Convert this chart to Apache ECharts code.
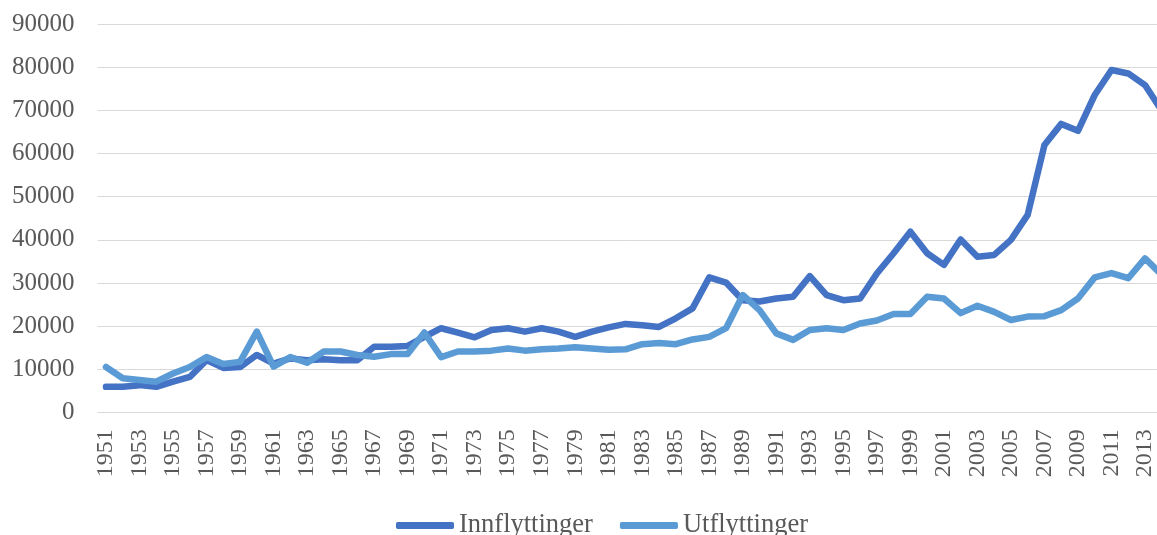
<!DOCTYPE html>
<html>
<head>
<meta charset="utf-8">
<script src="https://cdn.jsdelivr.net/npm/echarts@6/dist/echarts.min.js"></script>
<style>
  html, body { margin: 0; padding: 0; background: #fff; }
  #chart { width: 1157px; height: 535px; }
</style>
</head>
<body>
<div id="chart"></div>
<script>
// år 1951-2014
var years = [];
for (var y = 1951; y <= 2014; y++) { years.push(y); }

// årstall som vises på aksen (annethvert år)
var yearLabels = [];
for (var y = 1951; y <= 2013; y += 2) { yearLabels.push(y); }

// innflyttinger
var innflyttinger = [
  5900, 5950, 6300, 5900, 7100, 8200, 12100, 10300, 10500, 13300,
  11300, 12500, 12100, 12300, 12100, 12100, 15200, 15200, 15400, 17500,
  19500, 18500, 17400, 19100, 19500, 18700, 19500, 18700, 17500, 18700,
  19700, 20500, 20200, 19800, 21800, 24100, 31300, 30100, 26000, 25700,
  26400, 26800, 31600, 27200, 26000, 26400, 32200, 36900, 41900, 36900,
  34200, 40100, 36100, 36500, 40000, 45800, 62000, 66900, 65300, 73600,
  79400, 78600, 75900, 70000
];

// utflyttinger
var utflyttinger = [
  10500, 7900, 7500, 7100, 9000, 10500, 12800, 11200, 11700, 18700,
  10600, 12800, 11500, 14100, 14100, 13300, 12900, 13500, 13500, 18500,
  12800, 14100, 14100, 14300, 14800, 14300, 14600, 14800, 15100, 14800,
  14500, 14600, 15800, 16100, 15800, 16900, 17500, 19500, 27200, 23700,
  18300, 16800, 19100, 19500, 19100, 20600, 21300, 22800, 22800, 26800,
  26400, 23000, 24700, 23300, 21400, 22200, 22300, 23700, 26400, 31300,
  32300, 31100, 35700, 31900
];

// sett sammen [år, verdi]
function pairs(values) {
  var out = [];
  for (var i = 0; i < years.length; i++) { out.push([years[i], values[i]]); }
  return out;
}

var serif = '"Liberation Serif", "DejaVu Serif", serif';

var chart = echarts.init(document.getElementById('chart'));

// figuren er kuttet i høyre kant, så aksen slutter rett før 2014
var xMin = 1950.5;
var xMax = xMin + 1059.4 / 16.76;

var option = {
  backgroundColor: '#ffffff',
  animation: false,
  grid: {
    left: 97.6,
    top: 24.3,
    right: 0,
    bottom: 122.7
  },
  legend: {
    data: ['Innflyttinger', 'Utflyttinger'],
    left: 391,
    top: 507,
    icon: 'roundRect',
    itemWidth: 58,
    itemHeight: 7,
    itemGap: 27,
    textStyle: { fontFamily: serif, fontSize: 26.5, color: '#595959' }
  },
  xAxis: {
    type: 'value',
    min: xMin,
    max: xMax,
    axisLine: { show: false },
    axisTick: { show: false },
    splitLine: { show: false },
    axisLabel: {
      customValues: yearLabels,
      rotate: 90,
      margin: 17,
      fontFamily: serif,
      fontSize: 24,
      color: '#595959',
      formatter: function (v) { return String(v); }
    }
  },
  yAxis: {
    type: 'value',
    min: 0,
    max: 90000,
    interval: 10000,
    axisLine: { show: false },
    axisTick: { show: false },
    splitLine: { lineStyle: { color: '#d9d9d9', width: 1 } },
    axisLabel: {
      margin: 23,
      fontFamily: serif,
      fontSize: 25,
      color: '#595959',
      formatter: function (v) { return String(v); }
    }
  },
  series: [
    {
      name: 'Innflyttinger',
      type: 'line',
      data: pairs(innflyttinger),
      showSymbol: false,
      color: '#4472C4',
      lineStyle: { width: 6.5, color: '#4472C4', join: 'round', cap: 'round' }
    },
    {
      name: 'Utflyttinger',
      type: 'line',
      data: pairs(utflyttinger),
      showSymbol: false,
      color: '#5B9BD5',
      lineStyle: { width: 6.5, color: '#5B9BD5', join: 'round', cap: 'round' }
    }
  ]
};

chart.setOption(option);
</script>
</body>
</html>
